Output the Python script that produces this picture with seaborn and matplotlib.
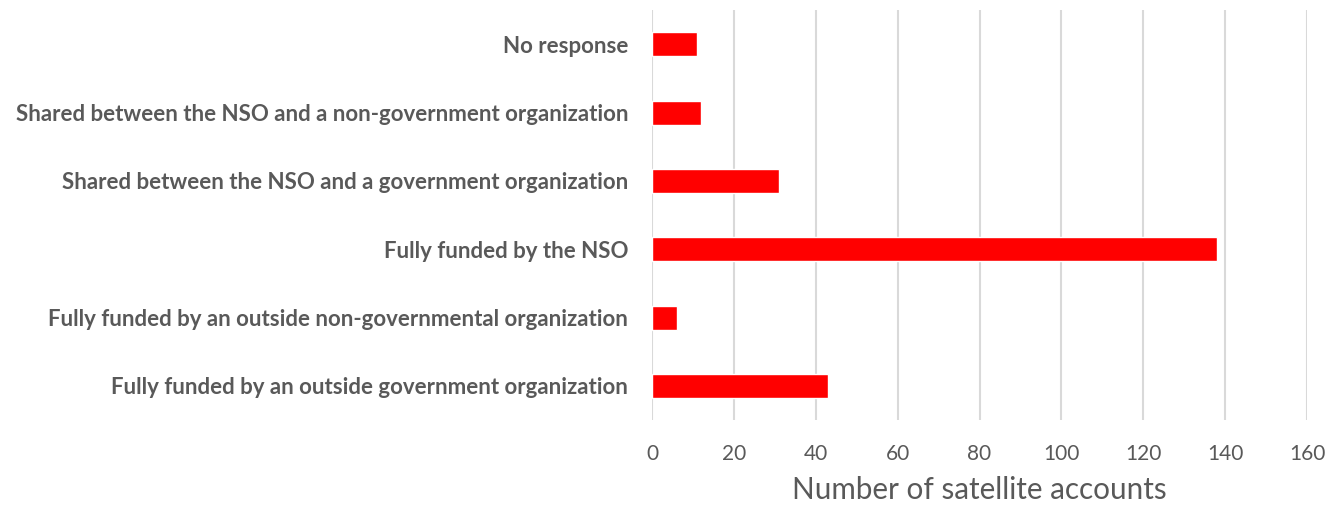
import matplotlib
matplotlib.use("Agg")
import matplotlib.pyplot as plt
import seaborn as sns
import pandas as pd

categories = [
    "No response",
    "Shared between the NSO and a non-government organization",
    "Shared between the NSO and a government organization",
    "Fully funded by the NSO",
    "Fully funded by an outside non-governmental organization",
    "Fully funded by an outside government organization",
]
counts = [11, 12, 31, 138, 6, 43]
x_ticks = [0, 20, 40, 60, 80, 100, 120, 140, 160]

df = pd.DataFrame({"category": categories, "count": counts})

sns.set_theme(style="white")
plt.rcParams["font.family"] = ["Lato", "DejaVu Sans"]

fig = plt.figure(figsize=(13.27, 5.05), dpi=100)
ax = fig.add_axes([0.4913, 0.168, 0.4937, 0.812])

sns.barplot(data=df, x="count", y="category", orient="h", color="#ff0000",
            saturation=1, width=0.35, ax=ax, zorder=3)

ax.set_xlim(0, 160)
ax.set_ylim(5.5, -0.5)
ax.set_xticks(x_ticks)
ax.set_xticklabels([str(t) for t in x_ticks], fontsize=15, color="#595959")
ax.set_yticks(range(len(categories)))
ax.set_yticklabels(categories, fontsize=16, fontweight="bold", color="#595959")
ax.tick_params(axis="y", length=0, pad=17)
ax.tick_params(axis="x", length=0, pad=17)
ax.xaxis.grid(True, color="#d9d9d9", linewidth=1.5, zorder=0)
ax.yaxis.grid(False)
for s in ax.spines.values():
    s.set_visible(False)
ax.set_ylabel("")
ax.set_xlabel("Number of satellite accounts", fontsize=21.3, color="#595959", labelpad=9)

fig.savefig("out.png", dpi=100, facecolor="white")
